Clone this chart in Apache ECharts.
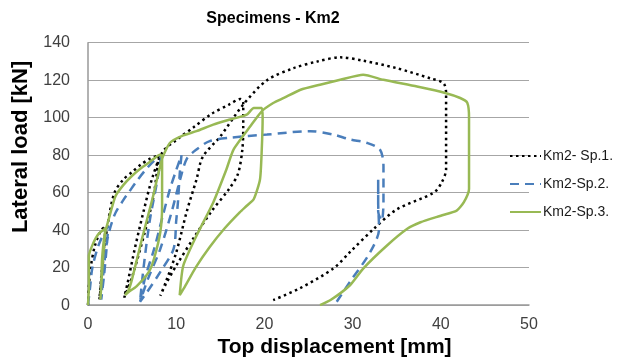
<!DOCTYPE html>
<html><head><meta charset="utf-8">
<script src="https://cdn.jsdelivr.net/npm/echarts@6/dist/echarts.min.js"></script>
<style>html,body{margin:0;padding:0;background:#fff}#c{width:624px;height:363px}</style>
</head><body><div id="c"></div>
<script>
const seriesNames = ['Km2- Sp.1.', 'Km2-Sp.2.', 'Km2-Sp.3.'];
const xTicks = [0, 10, 20, 30, 40, 50];
const yTicks = [0, 20, 40, 60, 80, 100, 120, 140];

const sp1 = [[0,0],[0.1,10],[0.3,20],[0.8,32],[1.5,40],[2.0,42],[1.8,30],[1.5,15],[1.3,3],
  [1.5,12],[1.8,28],[2.3,45],[3,60],[4,67],[5,71],[6,75],[7,78],[8,80],
  [7.5,60],[6.5,40],[5,15],[4.1,4],
  [4.5,12],[5.3,30],[6.3,50],[7.3,68],[8.5,82],[10,88],[12,95],[14,102],[16,107],[17.3,110],[17.6,108],
  [17.6,95],[17.5,83],[17,70],[16,62],[14,50],[12,36],[10,21],[8.8,11],[8.2,5],
  [8.8,12],[10,28],[11.2,50],[12.3,67],[13,79],[15,90],[17.6,107],[20.3,120],[23.3,126.4],[26,130],[28.6,132.2],
  [31.2,130.4],[35,126.4],[38.8,121],[40.3,118.4],[40.6,113],[40.6,95],[40.6,72.5],[40.1,65.4],[39.2,60],
  [35,51],[32.4,40.7],[29.7,28.3],[27.8,19.5],[24,8.9],[21,2.7]];

const sp2 = [[0,0],[0.2,8],[0.5,20],[1.2,32],[2.0,40],[2.3,42],[2.1,30],[1.8,15],[1.5,3],
  [1.7,15],[2.2,35],[3,48],[4,56],[4.6,60],[5.5,66],[6.5,72],[7.5,77],[8.3,79],
  [7.8,65],[7,45],[6.3,20],[5.9,2],
  [6.5,15],[7.5,30],[8.5,48],[9.3,62],[10,72],[10.6,80],[10.4,70],[10.2,55],[10,45],[9.7,30],[8.2,17.7],[6.7,7],[5.9,1.8],
  [6.8,14],[8.2,30],[9.5,50],[10.5,68],[11.2,78],[12.3,83],[13.8,87.5],[16.1,89.3],[20.3,91],[25.2,92.8],[27.8,91],
  [29.7,88.4],[31.6,86.6],[33.1,83],[33.5,74],[33.5,55],[33.3,45],[32.9,50],[32.9,67],[32.9,55],[33,40.7],
  [32,28.3],[29.7,12.4],[28.2,1.8]];

const sp3 = [[0,0],[0.1,10],[0.1,26],[0.5,32],[1.2,38],[2,41],[1.7,25],[1.5,10],[1.4,3],
  [1.5,12],[1.6,25],[1.9,38],[2.3,45],[3.1,58],[4,64],[5,69],[6,73],[6.9,76],[8.2,80.4],[8.4,78],
  [8.4,65],[8.4,53],[8.2,39],[7.5,25],[6.9,17.7],[5.5,10],[4.6,7],[4.2,5.3],
  [4.6,8],[5,14],[6.1,35],[7.3,56.6],[8.4,78],[9.3,86.6],[10.8,90.5],[12.3,92.8],[14.2,96.3],[16.1,99],
  [18,101.6],[18.8,105.2],[19.7,105.2],[19.8,100],[19.7,83],[19.5,67],[18.8,56.6],[18,53],[17.2,49.5],
  [15.5,41],[13.8,31],[12.2,20],[11,10],[10.4,5.3],
  [10.8,21],[12.3,37],[14.2,54.8],[15.7,72.5],[16.5,83],[18.4,95.4],[19.7,103.4],[21,107.8],[22.2,110.5],
  [24.1,114.9],[26.3,117.6],[28.6,120.2],[31.2,122.9],[33.5,120.2],[37.3,116.6],[40.5,113.2],[42.2,110.5],
  [43,108],[43.2,100],[43.2,62],[42.6,54.8],[41.8,50.4],[40,47.7],[37.7,44.2],[36.2,40.7],[33.9,31.8],
  [31.2,19.5],[29.7,10.6],[27.5,2.7],[26.3,0]];

const chart = echarts.init(document.getElementById('c'));
const FONT = '"Liberation Sans", Arial, sans-serif';
chart.setOption({
  animation: false,
  backgroundColor: '#ffffff',
  title: {
    text: 'Specimens - Km2', left: 268, top: 6, textAlign: 'center',
    textStyle: {fontFamily: FONT, fontSize: 16, fontWeight: 'bold', color: '#000'}
  },
  legend: {
    orient: 'vertical', left: 504, top: 144, itemWidth: 31, itemHeight: 14, itemGap: 14,
    data: seriesNames,
    itemStyle: {color: 'rgba(0,0,0,0)', borderColor: 'rgba(0,0,0,0)', borderWidth: 0},
    textStyle: {fontFamily: FONT, fontSize: 14, color: '#1a1a1a', padding: [0,0,0,-3]}
  },
  grid: {left: 88, right: 95, top: 42.7, bottom: 56.3},
  xAxis: {
    type: 'value', min: xTicks[0], max: xTicks[xTicks.length-1], interval: 10,
    name: 'Top displacement [mm]', nameLocation: 'middle', nameGap: 28,
    nameTextStyle: {fontFamily: FONT, fontSize: 21, fontWeight: 'bold', color: '#000', padding: [0,0,0,52]},
    axisLine: {lineStyle: {color: '#999', width: 1.5}},
    axisTick: {show: false},
    axisLabel: {fontFamily: FONT, fontSize: 16, color: '#404040', margin: 11},
    splitLine: {show: false}
  },
  yAxis: {
    type: 'value', min: yTicks[0], max: yTicks[yTicks.length-1], interval: 20,
    name: 'Lateral load [kN]', nameLocation: 'middle', nameGap: 49,
    nameTextStyle: {fontFamily: FONT, fontSize: 22, fontWeight: 'bold', color: '#000', padding: [0,0,0,54]},
    axisLine: {show: true, lineStyle: {color: '#999', width: 1.5}},
    axisTick: {show: false},
    axisLabel: {fontFamily: FONT, fontSize: 16, color: '#404040', margin: 18},
    splitLine: {lineStyle: {color: '#a6a6a6', width: 1.2}}
  },
  series: [
    {name: seriesNames[0], type: 'line', data: sp1, symbol: 'none', smooth: 0.3,
     lineStyle: {color: '#000', width: 2.5, type: [2.5, 3.5]}, itemStyle: {color: '#000'}},
    {name: seriesNames[1], type: 'line', data: sp2, symbol: 'none', smooth: 0.3,
     lineStyle: {color: '#4a7ebb', width: 2.5, type: [9, 6]}, itemStyle: {color: '#4a7ebb'}},
    {name: seriesNames[2], type: 'line', data: sp3, symbol: 'none', smooth: 0.2,
     lineStyle: {color: '#98b954', width: 2.5}, itemStyle: {color: '#98b954'}}
  ]
});
</script></body></html>
